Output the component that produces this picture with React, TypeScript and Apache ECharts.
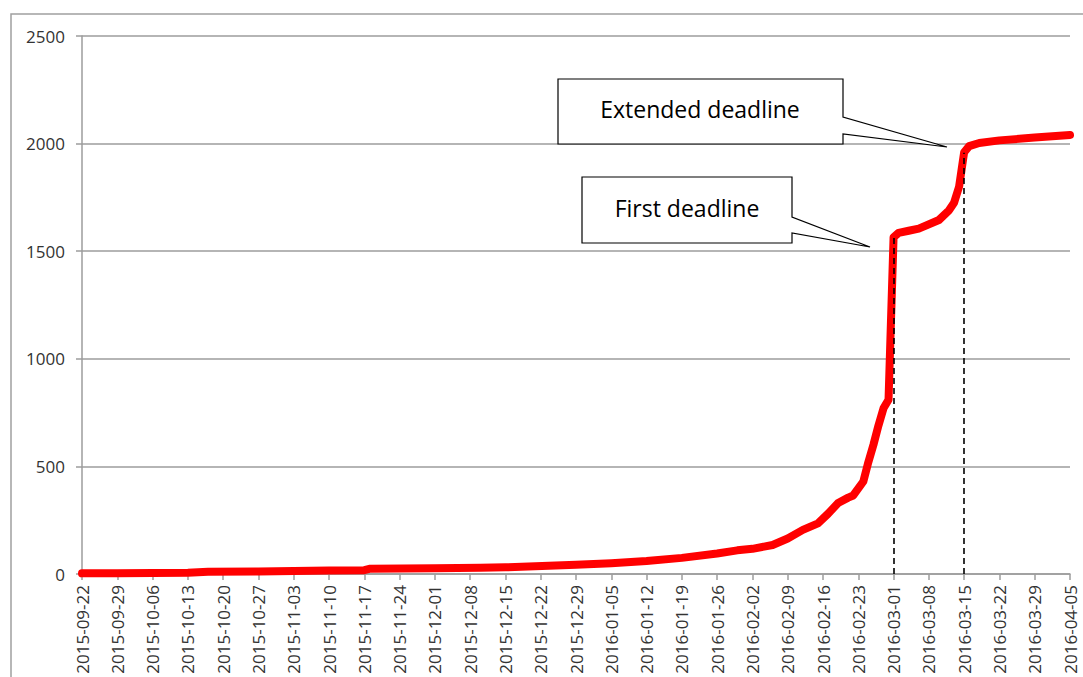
import React, { useEffect, useRef } from "react";
import * as echarts from "echarts";

const START = "2015-09-22";
const END = "2016-04-05";

const dates = [
  "2015-09-22", "2015-09-29", "2015-10-06", "2015-10-13", "2015-10-17", "2015-10-27",
  "2015-11-10", "2015-11-17", "2015-11-18", "2015-12-01", "2015-12-10", "2015-12-15",
  "2015-12-29", "2016-01-05", "2016-01-12", "2016-01-19", "2016-01-26", "2016-01-30",
  "2016-02-02", "2016-02-06", "2016-02-09", "2016-02-12", "2016-02-15", "2016-02-17",
  "2016-02-19", "2016-02-21", "2016-02-22", "2016-02-24", "2016-02-25", "2016-02-26",
  "2016-02-27", "2016-02-28", "2016-02-29", "2016-03-01", "2016-03-02", "2016-03-04",
  "2016-03-06", "2016-03-10", "2016-03-12", "2016-03-13", "2016-03-14", "2016-03-15",
  "2016-03-16", "2016-03-18", "2016-03-22", "2016-03-29", "2016-04-05",
];
const counts = [
  3, 4, 5, 6, 10, 12,
  16, 18, 24, 27, 29, 31,
  43, 50, 60, 75, 95, 110,
  117, 135, 165, 205, 235, 280,
  330, 355, 365, 430, 520, 600,
  690, 770, 810, 1565, 1585, 1595,
  1605, 1645, 1690, 1725, 1800, 1960,
  1988, 2003, 2015, 2028, 2040,
];

const deadlineDates = ["2016-03-01", "2016-03-15"];
const deadlineTops = [1562, 1958];
const calloutTexts = ["First deadline", "Extended deadline"];

const Y_MIN = 0;
const Y_MAX = 2500;
const Y_STEP = 500;
const X_STEP_DAYS = 7;

const DAY_MS = 86400000;
const dayIndex = (d: string) => Math.round((Date.parse(d) - Date.parse(START)) / DAY_MS);
const dayLabel = (i: number) => new Date(Date.parse(START) + i * DAY_MS).toISOString().slice(0, 10);

const FONT = "'Open Sans', 'Noto Sans', sans-serif";
const GRID_COLOR = "#9c9c9c";

export default function App() {
  const ref = useRef<HTMLDivElement>(null);

  useEffect(() => {
    if (!ref.current) return;
    const chart = echarts.init(ref.current, undefined, { renderer: "svg" });

    const seriesData = dates.map((d, i) => [dayIndex(d), counts[i]]);
    const markData = deadlineDates.map((d, i) => [
      { coord: [dayIndex(d), 0] },
      { coord: [dayIndex(d), deadlineTops[i]] },
    ]);

    const callout = (
      box: [number, number, number, number],
      w1: number,
      w2: number,
      tip: [number, number],
      text: string,
      cx: number,
      cy: number
    ) => {
      const [l, t, r, b] = box;
      return [
        {
          type: "polygon",
          z: 100,
          shape: {
            points: [
              [l, t], [r, t], [r, w1], tip, [r, w2], [r, b], [l, b],
            ],
          },
          style: { fill: "#ffffff", stroke: "#000000", lineWidth: 1.2 },
        },
        {
          type: "text",
          z: 101,
          x: cx,
          y: cy,
          style: {
            text,
            fill: "#000000",
            font: `23px ${FONT}`,
            align: "center",
            verticalAlign: "middle",
          },
        },
      ];
    };

    chart.setOption({
      animation: false,
      backgroundColor: "#ffffff",
      grid: {
        left: 82,
        top: 36,
        right: 13,
        bottom: 103,
        containLabel: false,
        outerBoundsMode: "none",
      },
      xAxis: {
        type: "value",
        min: 0,
        max: dayIndex(END),
        interval: X_STEP_DAYS,
        axisLine: { show: true, lineStyle: { color: GRID_COLOR, width: 1.5 } },
        axisTick: { show: true, length: 6, lineStyle: { color: GRID_COLOR, width: 1.5 } },
        splitLine: { show: false },
        axisLabel: {
          rotate: 90,
          margin: 11,
          fontFamily: FONT,
          fontSize: 17,
          color: "#333333",
          hideOverlap: false,
          formatter: (v: number) => dayLabel(v),
        },
      },
      yAxis: {
        type: "value",
        min: Y_MIN,
        max: Y_MAX,
        interval: Y_STEP,
        axisLine: { show: true, lineStyle: { color: GRID_COLOR, width: 1.5 } },
        axisTick: { show: true, length: 6, lineStyle: { color: GRID_COLOR, width: 1.5 } },
        splitLine: { show: true, lineStyle: { color: GRID_COLOR, width: 1.5 } },
        axisLabel: {
          margin: 17,
          fontFamily: FONT,
          fontSize: 17,
          color: "#333333",
          formatter: (v: number) => String(v),
        },
      },
      series: [
        {
          type: "line",
          data: seriesData,
          showSymbol: false,
          symbol: "none",
          smooth: false,
          lineStyle: { color: "#ff0000", width: 8, cap: "round", join: "round" },
          markLine: {
            silent: true,
            symbol: ["none", "none"],
            label: { show: false },
            lineStyle: { color: "#000000", type: [6, 4], width: 1.6 },
            data: markData,
            z: 10,
          },
        },
      ],
      graphic: [
        {
          type: "rect",
          z: 0,
          silent: true,
          shape: { x: 11, y: 14, width: 1200, height: 800 },
          style: { fill: "none", stroke: "#a0a0a0", lineWidth: 1.5 },
        },
        ...callout([582, 177, 792, 243], 217, 233, [870, 247], calloutTexts[0], 687, 208),
        ...callout([558, 79, 843, 144], 117, 134, [947, 147], calloutTexts[1], 700, 109),
      ],
    });

    return () => chart.dispose();
  }, []);

  return (
    <div
      ref={ref}
      style={{ position: "absolute", left: 0, top: 0, width: 1083, height: 677 }}
    />
  );
}
